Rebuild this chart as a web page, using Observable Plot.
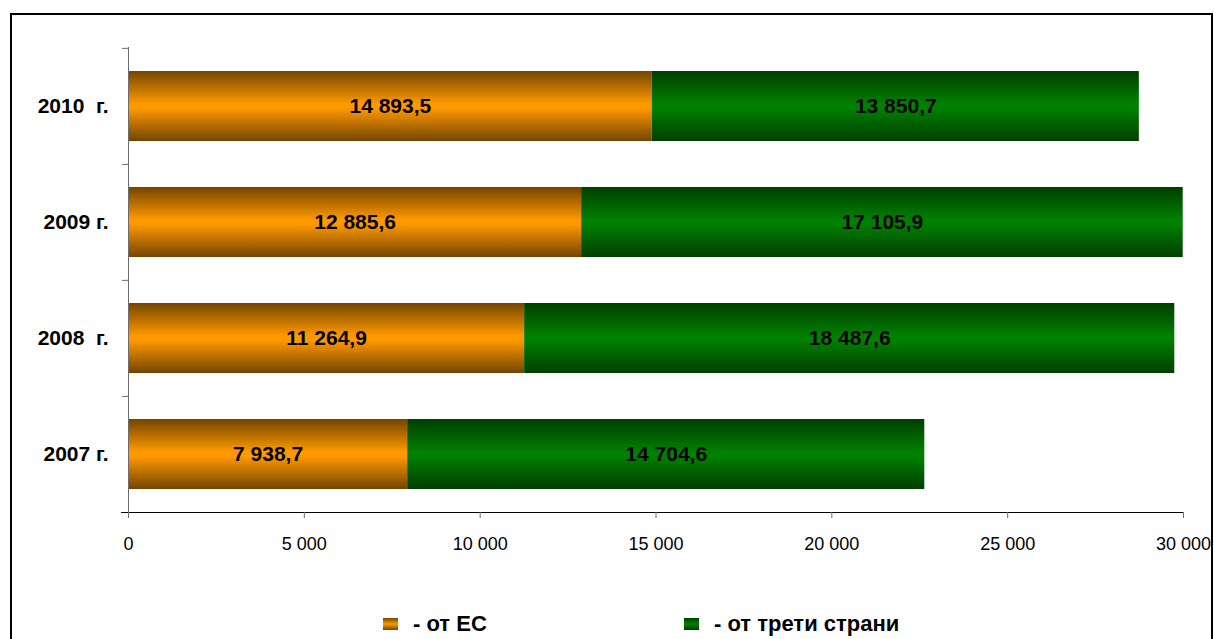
<!DOCTYPE html>
<html><head><meta charset="utf-8">
<script src="https://cdn.jsdelivr.net/npm/d3@7"></script>
<script src="https://cdn.jsdelivr.net/npm/@observablehq/plot@0.6"></script>
<style>
html,body{margin:0;padding:0;background:#fff;overflow:hidden;width:1214px;height:639px}
#frame{position:absolute;left:10px;top:13px;width:1199px;height:700px;border:2px solid #000;border-bottom:none;box-sizing:content-box}
#chart{position:absolute;left:0;top:0}
#chart svg text{white-space:pre}
#legend{position:absolute;top:610px;left:0;width:1214px;height:28px;font-family:"Liberation Sans",Arial,sans-serif;font-weight:bold;font-size:22px;color:#000}
.item{position:absolute;top:0;display:flex;align-items:center;height:28px;white-space:pre}
.sw{width:15px;height:12px;margin-right:15px}
</style></head><body>
<div id="frame"></div>
<div id="chart"></div>
<div id="legend"></div>
<script>
// ---- data ----
const years = ["2010  г.", "2009 г.", "2008  г.", "2007 г."];
const fromEU = [14893.5, 12885.6, 11264.9, 7938.7];
const fromThird = [13850.7, 17105.9, 18487.6, 14704.6];
const xTicks = [0, 5000, 10000, 15000, 20000, 25000, 30000];
const seriesNames = ["- от ЕС", "- от трети страни"];

// ---- styles ----
const euDark = "#734500", euLight = "#ff9900";
const thDark = "#003f00", thLight = "#008000";
const W = 1214, H = 570, MT = 47, MB = 58, ML = 128, MR = 31;
const step = (H - MT - MB) / years.length;

const loc = d3.formatLocale({decimal: ",", thousands: " ", grouping: [3], currency: ["", ""]});
const fmtInt = loc.format(",.0f");
const fmt1 = loc.format(",.1f");

const rows = years.map((y, i) => ({year: y, eu: fromEU[i], third: fromThird[i]}));

const font = '"Liberation Sans", Arial, sans-serif';

const plot = Plot.plot({
  width: W, height: H,
  marginTop: MT, marginBottom: MB, marginLeft: ML, marginRight: MR,
  style: {fontFamily: font, background: "transparent", color: "#000"},
  x: {domain: [0, 30000]},
  y: {domain: years, paddingInner: 0.4, paddingOuter: 0.2},
  marks: [
    Plot.barX(rows, {y: "year", x1: d => 0, x2: "eu", fill: "url(#gEU)"}),
    Plot.barX(rows, {y: "year", x1: "eu", x2: d => d.eu + d.third, fill: "url(#gTh)"}),
    Plot.text(rows, {y: "year", x: d => d.eu / 2, text: d => fmt1(d.eu), fontWeight: "bold", fontSize: 21, fill: "#000"}),
    Plot.text(rows, {y: "year", x: d => d.eu + d.third / 2, text: d => fmt1(d.third), fontWeight: "bold", fontSize: 21, fill: "#000"}),
    Plot.frame({anchor: "left", stroke: "#6d6d6d"}),
    Plot.frame({anchor: "bottom", stroke: "#000", insetLeft: -7}),
    Plot.axisY({tickSize: 6, tickFormat: () => "", dy: -step / 2, stroke: "#6d6d6d", label: null}),
    Plot.axisY({tickSize: 0, tickPadding: 20, fontSize: 21, fontWeight: "bold", label: null}),
    Plot.axisX({ticks: xTicks, tickFormat: fmtInt, tickSize: 6, tickPadding: 19, fontSize: 18, stroke: "#6d6d6d", label: null})
  ]
});

const svgEl = plot.tagName.toLowerCase() === "svg" ? plot : plot.querySelector("svg");
const defs = d3.select(svgEl).insert("defs", ":first-child");
function grad(id, dark, light) {
  const g = defs.append("linearGradient").attr("id", id)
    .attr("x1", 0).attr("y1", 0).attr("x2", 0).attr("y2", 1);
  g.append("stop").attr("offset", "0").attr("stop-color", dark);
  g.append("stop").attr("offset", "0.47").attr("stop-color", light);
  g.append("stop").attr("offset", "0.53").attr("stop-color", light);
  g.append("stop").attr("offset", "1").attr("stop-color", dark);
}
grad("gEU", euDark, euLight);
grad("gTh", thDark, thLight);
document.getElementById("chart").appendChild(plot);

// ---- legend ----
const legend = document.getElementById("legend");
const legendX = [383, 684];
const legendColors = [[euDark, euLight], [thDark, thLight]];
seriesNames.forEach((name, i) => {
  const item = document.createElement("div");
  item.className = "item";
  item.style.left = legendX[i] + "px";
  const sw = document.createElement("span");
  sw.className = "sw";
  sw.style.background = `linear-gradient(to bottom, ${legendColors[i][0]}, ${legendColors[i][1]} 50%, ${legendColors[i][0]})`;
  const tx = document.createElement("span");
  tx.textContent = name;
  item.appendChild(sw); item.appendChild(tx);
  legend.appendChild(item);
});
</script>
</body></html>
